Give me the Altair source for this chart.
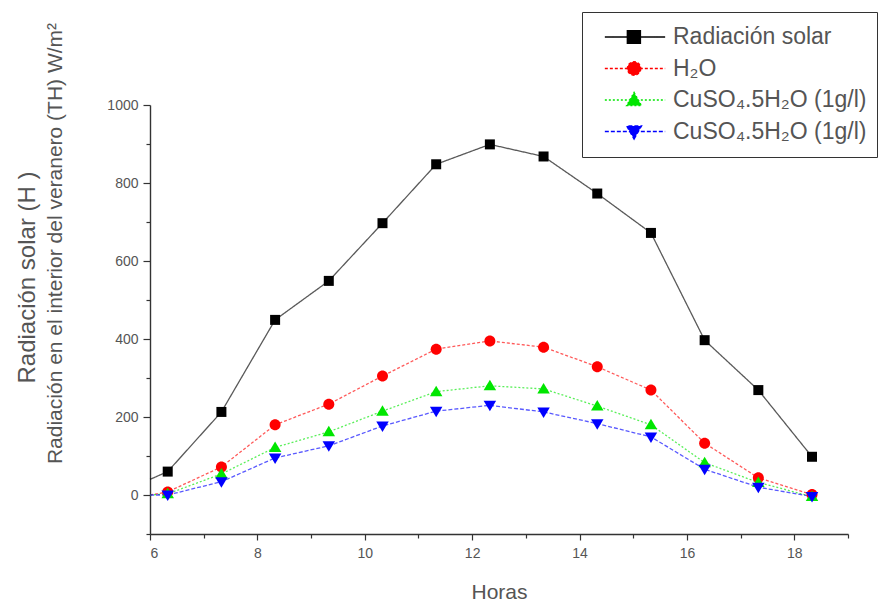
import altair as alt
import pandas as pd

# ---------------- data ----------------
horas = [6.33, 7.33, 8.33, 9.33, 10.33, 11.33, 12.33, 13.33, 14.33, 15.33, 16.33, 17.33, 18.33]
radiacion_solar = [60, 213, 449, 549, 697, 848, 899, 868, 773, 672, 397, 269, 98]
h2o = [8, 72, 180, 233, 305, 374, 395, 379, 329, 269, 133, 44, 1]
cuso4_a = [3, 54, 122, 162, 215, 265, 280, 272, 228, 180, 83, 32, -4]
cuso4_b = [0, 34, 95, 126, 177, 215, 230, 213, 183, 149, 66, 20, -4]

# where each curve leaves the y axis (line only, no marker)
hora_inicio = 6
valor_inicio = [40, 0, 0, 0]

series_keys = ["rad", "h2o", "cu1", "cu2"]
series_labels = ["Radiación solar", "H₂O", "CuSO₄.5H₂O (1g/l)", "CuSO₄.5H₂O (1g/l)"]
series_values = [radiacion_solar, h2o, cuso4_a, cuso4_b]

x_ticks = list(range(6, 20))
y_ticks = list(range(-100, 1001, 100))

y_title_1 = "Radiación solar (H )"
y_title_2 = "Radiación en el interior del veranero (TH) W/m²"
x_title = "Horas"

# ---------------- styles ----------------
series_colors = ["#000000", "#ff0000", "#00e600", "#0000ff"]
series_dash = [[1, 0], [3, 2], [2, 2], [4, 2]]
plot_shapes = [
    "M-1,-1H1V1H-1Z",
    "M1.1,0A1.1,1.1,0,1,1,-1.1,0A1.1,1.1,0,1,1,1.1,0Z",
    "M0,-1.2L1.25,0.9L-1.25,0.9Z",
    "M0,1.2L1.25,-0.9L-1.25,-0.9Z",
]
# legend symbols: horizontal line with the marker on it
legend_shapes = [
    "M-0.68,0H0.95M-0.07,-0.17H0.28V0.17H-0.07Z",
    "M-0.68,0H0.95M0.29,0A0.18,0.18,0,1,1,-0.07,0A0.18,0.18,0,1,1,0.29,0Z",
    "M-0.68,0H0.95M0.11,-0.2L0.31,0.15L-0.09,0.15Z",
    "M-0.68,0H0.95M0.11,0.2L0.31,-0.15L-0.09,-0.15Z",
]

rows = []
for key, vals, v0 in zip(series_keys, series_values, valor_inicio):
    rows.append({"serie": key, "hora": hora_inicio, "valor": v0, "marcador": 0})
    for h, v in zip(horas, vals):
        rows.append({"serie": key, "hora": h, "valor": v, "marcador": 1})
df = pd.DataFrame(rows)

label_map = "{" + ",".join(f"'{k}':'{l}'" for k, l in zip(series_keys, series_labels)) + "}"

FONT = "Liberation Sans"
TXT = "#555555"
AX = "#333333"

color_scale = alt.Scale(domain=series_keys, range=series_colors)
dash_scale = alt.Scale(domain=series_keys, range=series_dash)

x_enc = alt.X(
    "hora:Q",
    scale=alt.Scale(domain=[6, 19], nice=False, zero=False),
    axis=alt.Axis(
        values=x_ticks,
        format="d",
        labelExpr="datum.value % 2 === 0 ? datum.label : ''",
        tickSize={"condition": {"test": "datum.value % 2 !== 0", "value": 4}, "value": 6},
        labelPadding=6,
        title=x_title,
        titleY=64,
        titleBaseline="alphabetic",
        titleFontSize=21,
    ),
)
y_enc = alt.Y(
    "valor:Q",
    scale=alt.Scale(domain=[-100, 1000], nice=False, zero=False),
    axis=alt.Axis(
        values=y_ticks,
        format="d",
        labelExpr="datum.value % 200 === 0 ? datum.label : ''",
        tickSize={"condition": {"test": "datum.value % 200 !== 0", "value": 4}, "value": 7},
        labelPadding=5,
        title=y_title_2,
        titleX=-106,
        titleY=138,
        titleAlign="center",
        titleBaseline="top",
    ),
)

base = alt.Chart(df)

lines = base.mark_line(strokeWidth=1.3, strokeOpacity=0.65).encode(
    x=x_enc,
    y=y_enc,
    color=alt.Color("serie:N", scale=color_scale, legend=None),
    strokeDash=alt.StrokeDash("serie:N", scale=dash_scale, legend=None),
)

points = base.transform_filter("datum.marcador == 1").mark_point(
    filled=True, size=100, opacity=1, strokeWidth=0
).encode(
    x=x_enc,
    y=y_enc,
    color=alt.Color("serie:N", scale=color_scale, legend=None),
    shape=alt.Shape("serie:N", scale=alt.Scale(domain=series_keys, range=plot_shapes), legend=None),
)

LEG_SIZE = 5476
legend_cfg = dict(
    orient="none",
    legendX=432,
    legendY=-93,
    title=None,
    labelExpr=label_map + "[datum.value]",
    labelFont=FONT,
    labelFontSize=23,
    labelColor=TXT,
    labelLimit=400,
    symbolSize=LEG_SIZE,
    symbolStrokeWidth=1.5,
    symbolOpacity=1,
    clipHeight=30,
    rowPadding=1.5,
    labelOffset=5,
    padding=10,
    strokeColor=AX,
    fillColor="white",
)

legend_layer = base.transform_filter("false").mark_point(size=LEG_SIZE, opacity=1).encode(
    shape=alt.Shape("serie:N", scale=alt.Scale(domain=series_keys, range=legend_shapes),
                    legend=alt.Legend(**legend_cfg)),
    fill=alt.Fill("serie:N", scale=alt.Scale(domain=series_keys, range=series_colors),
                  legend=alt.Legend(**legend_cfg)),
    stroke=alt.Stroke("serie:N", scale=alt.Scale(domain=series_keys, range=series_colors),
                      legend=alt.Legend(**legend_cfg)),
    strokeDash=alt.StrokeDash("serie:N", scale=alt.Scale(domain=series_keys, range=series_dash),
                              legend=alt.Legend(**legend_cfg)),
)

chart = (
    alt.layer(lines, points, legend_layer)
    .resolve_scale(shape="independent", strokeDash="independent",
                   fill="independent", stroke="independent")
    .properties(
        width=698,
        height=429,
        autosize=alt.AutoSizeParams(type="none"),
        padding={"left": 142, "top": 97, "right": 31, "bottom": 70},
        title=alt.TitleParams(
            text=y_title_1,
            orient="left",
            anchor="middle",
            font=FONT,
            fontSize=24,
            fontWeight="normal",
            color=TXT,
            offset=4,
            dx=42,
        ),
    )
    .configure_view(stroke=None)
    .configure_axis(
        grid=False,
        domainColor=AX,
        domainWidth=1.4,
        tickColor=AX,
        tickWidth=1.2,
        labelFont=FONT,
        labelFontSize=14,
        labelColor=TXT,
        titleFont=FONT,
        titleFontSize=21,
        titleFontWeight="normal",
        titleColor=TXT,
    )
)

chart.save("out.html", embed_options={"renderer": "svg", "actions": False})
